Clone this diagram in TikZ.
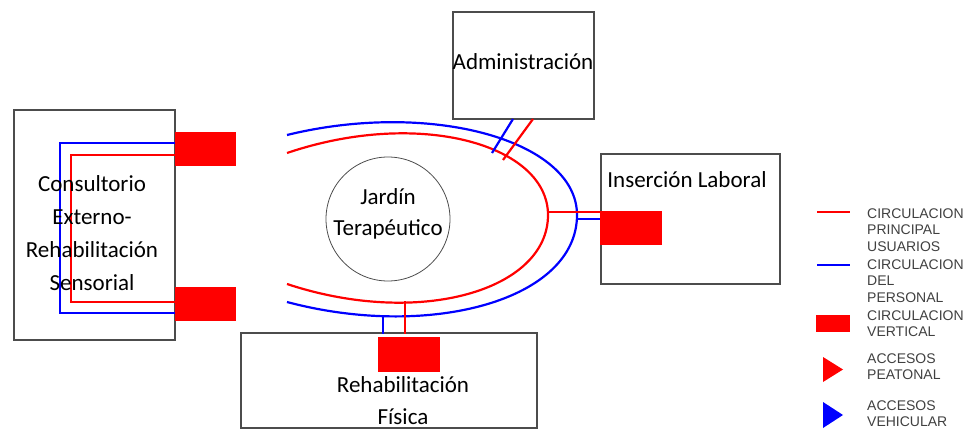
\documentclass[tikz,border=0pt]{standalone}
\usepackage{fontspec}
\setmainfont{Carlito}
\newfontfamily\legendfont{Liberation Sans}
\begin{document}
\begin{tikzpicture}[x=1pt, y=-1pt,
    room/.style={draw=black!70, line width=1.2pt, inner sep=0pt},
    roomtext/.style={align=center, inner sep=0pt, font=\fontsize{23}{32}\selectfont},
    vert/.style={fill=red, inner sep=0pt},
    usuarios/.style={red, line width=2.2pt},
    personal/.style={blue, line width=2.2pt},
    leyenda/.style={anchor=north west, align=left, inner sep=0pt, text=black!75,
        font=\legendfont\fontsize{14}{16.5}\selectfont}]
  \useasboundingbox (0,0) rectangle (971,430);

  % espacios
  \node[room, minimum width=161pt, minimum height=230pt] (consultorio) at (94.5,225) {};
  \node[room, minimum width=141pt, minimum height=107pt] (admin) at (523.5,65.5) {};
  \node[room, minimum width=179pt, minimum height=130pt] (insercion) at (690.5,219) {};
  \node[room, minimum width=296pt, minimum height=95pt] (rehab) at (389,380.5) {};
  \node[draw=black!70, line width=0.8pt, circle, minimum size=124pt] (jardin) at (388,219) {};

  % circulacion
  \draw[personal] (287,135) .. controls (430,100) and (577,140) .. (577,215)
                  .. controls (577,300) and (430,340) .. (287,302);
  \draw[usuarios] (287,153) .. controls (420,108) and (548,145) .. (548,215)
                  .. controls (548,290) and (420,328) .. (287,284);

  \draw[personal] (175,143) -- (60,143) -- (60,313) -- (175,313);
  \draw[usuarios] (175,155) -- (71,155) -- (71,302) -- (175,302);

  \draw[personal] (513,119) -- (492,153);
  \draw[usuarios] (533,119) -- (503,160);
  \draw[usuarios] (547,212) -- (601,212);
  \draw[personal] (576,219) -- (601,219);
  \draw[personal] (383,316) -- (383,334);
  \draw[usuarios] (405,301) -- (405,334);

  % circulacion vertical
  \node[vert, minimum width=61pt, minimum height=34pt] (v1) at (205.5,149) {};
  \node[vert, minimum width=61pt, minimum height=34pt] (v2) at (205.5,304) {};
  \node[vert, minimum width=62pt, minimum height=34pt] (v3) at (631,228) {};
  \node[vert, minimum width=62pt, minimum height=35pt] (v4) at (409,354.5) {};

  % textos
  \node[roomtext, font=\fontsize{23}{33}\selectfont] at (92,233) {Consultorio\\Externo-\\Rehabilitación\\Sensorial};
  \node[roomtext] at (523,62) {Administración};
  \node[roomtext] at (687,180) {Inserción Laboral};
  \node[roomtext] at (403,401) {Rehabilitación\\Física};
  \node[roomtext, font=\fontsize{23}{31}\selectfont] at (388,213.5) {Jardín\\Terapéutico};

  % leyenda
  \draw[red, line width=1.5pt] (817,212) -- (850,212);
  \node[leyenda] (ley1) at (867,208.5) {CIRCULACION\\PRINCIPAL\\USUARIOS};
  \draw[blue, line width=1.5pt] (817,265) -- (850,265);
  \node[leyenda] (ley2) at (867,259.5) {CIRCULACION\\DEL\\PERSONAL};
  \fill[red] (816,315) rectangle (850,332);
  \node[leyenda] (ley3) at (867,310.5) {CIRCULACION\\VERTICAL};
  \fill[red] (823,357) -- (843,369.5) -- (823,382) -- cycle;
  \node[leyenda] (ley4) at (867,353.5) {ACCESOS\\PEATONAL};
  \fill[blue] (823,402) -- (843,415) -- (823,428) -- cycle;
  \node[leyenda] (ley5) at (867,400.5) {ACCESOS\\VEHICULAR};
\end{tikzpicture}
\end{document}
